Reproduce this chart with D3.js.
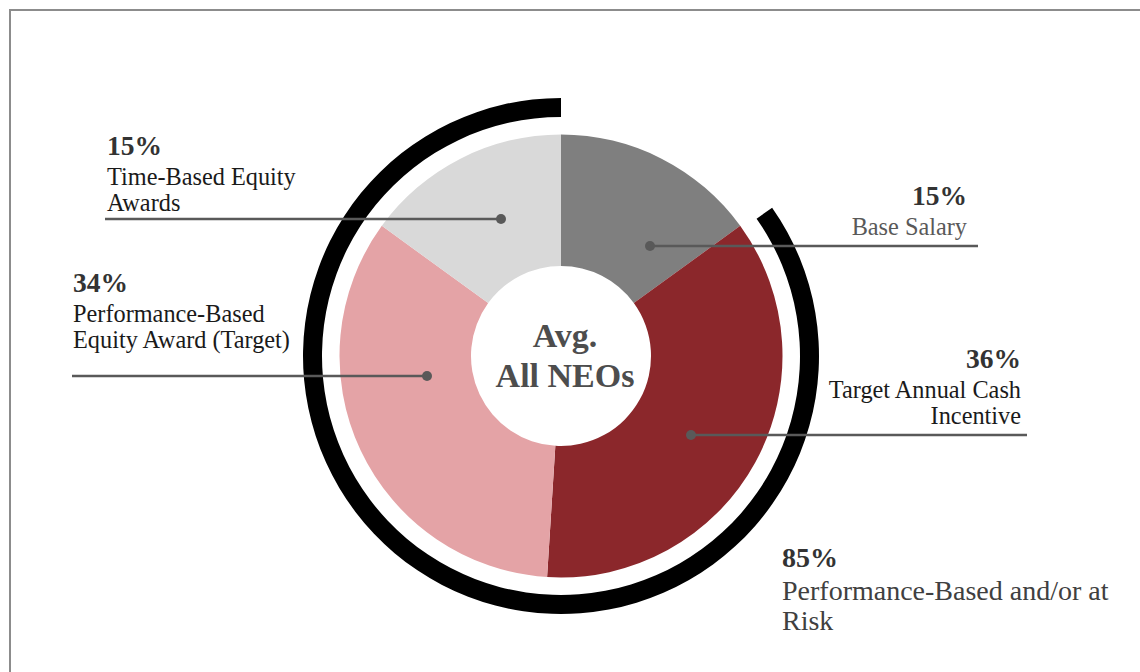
<!DOCTYPE html>
<html>
<head>
<meta charset="utf-8">
<script src="https://cdn.jsdelivr.net/npm/d3@7"></script>
<style>
  body { margin: 0; background: #fff; }
  svg { display: block; }
  text { font-family: "Liberation Serif", "Times New Roman", serif; }
</style>
</head>
<body>
<svg id="chart" width="1140" height="672"></svg>
<script>
// data
var categories = ["Base Salary", "Target Annual Cash Incentive", "Performance-Based Equity Award (Target)", "Time-Based Equity Awards"];
var values = [15, 36, 34, 15];
var sliceColors = ["#7f7f7f", "#8b272b", "#e4a3a6", "#d9d9d9"];
var labelLines = [["Base Salary"], ["Target Annual Cash", "Incentive"], ["Performance-Based", "Equity Award (Target)"], ["Time-Based Equity", "Awards"]];
var riskShare = 85;
var riskLines = ["Performance-Based and/or at", "Risk"];
var centerLines = ["Avg.", "All NEOs"];

// layout
var cx = 561, cy = 356;
var rIn = 90, rOut = 221.5;
var ringIn = 239, ringOut = 258;

// where each label sits (dot, line end, text column)
var labelLayout = [
  { dot: [650, 246], lineTo: 978, x: 967, anchor: "end", y: 205, color: "#595959" },
  { dot: [691, 435], lineTo: 1027, x: 1021, anchor: "end", y: 368, color: "#1a1a1a" },
  { dot: [427, 376], lineTo: 72, x: 73, anchor: "start", y: 292, color: "#1a1a1a" },
  { dot: [501, 219], lineTo: 105, x: 107, anchor: "start", y: 155, color: "#1a1a1a" }
];

var svg = d3.select("#chart");

// frame
svg.append("rect")
  .attr("x", 10).attr("y", 10)
  .attr("width", 1200).attr("height", 700)
  .style("fill", "none")
  .style("stroke", "#8c8c8c")
  .style("stroke-width", 2);

var g = svg.append("g").attr("transform", "translate(" + [cx, cy] + ")");

var pie = d3.pie().sort(null).value(d => d)(values);
var arc = d3.arc().innerRadius(rIn).outerRadius(rOut);

g.selectAll("path.slice")
  .data(pie)
  .enter()
  .append("path")
  .classed("slice", true)
  .attr("d", arc)
  .style("fill", (d, i) => sliceColors[i]);

// outer ring for the at-risk share
var total = d3.sum(values);
var ringArc = d3.arc()
  .innerRadius(ringIn)
  .outerRadius(ringOut)
  .startAngle(2 * Math.PI * (total - riskShare) / total + 0.016)
  .endAngle(2 * Math.PI);

g.append("path")
  .attr("d", ringArc())
  .style("fill", "#000");

// center text
g.selectAll("text.center")
  .data(centerLines)
  .enter()
  .append("text")
  .classed("center", true)
  .attr("x", 4)
  .attr("y", (d, i) => -9 + i * 40)
  .attr("text-anchor", "middle")
  .style("font-size", "34px")
  .style("font-weight", "bold")
  .style("fill", "#4d4d4d")
  .text(d => d);

// label leader lines + dots
var labels = svg.selectAll("g.label")
  .data(categories)
  .enter()
  .append("g")
  .classed("label", true);

labels.append("line")
  .attr("x1", (d, i) => labelLayout[i].dot[0])
  .attr("y1", (d, i) => labelLayout[i].dot[1])
  .attr("x2", (d, i) => labelLayout[i].lineTo)
  .attr("y2", (d, i) => labelLayout[i].dot[1])
  .style("stroke", "#595959")
  .style("stroke-width", 2.5);

labels.append("circle")
  .attr("cx", (d, i) => labelLayout[i].dot[0])
  .attr("cy", (d, i) => labelLayout[i].dot[1])
  .attr("r", 5)
  .style("fill", "#595959");

labels.append("text")
  .attr("x", (d, i) => labelLayout[i].x)
  .attr("y", (d, i) => labelLayout[i].y)
  .attr("text-anchor", (d, i) => labelLayout[i].anchor)
  .style("font-size", "27.5px")
  .style("font-weight", "bold")
  .style("fill", "#333")
  .text((d, i) => values[i] + "%");

labels.each(function(d, i) {
  var lay = labelLayout[i];
  d3.select(this).selectAll("text.desc")
    .data(labelLines[i])
    .enter()
    .append("text")
    .classed("desc", true)
    .attr("x", lay.x)
    .attr("y", (t, j) => lay.y + 30 + j * 26)
    .attr("text-anchor", lay.anchor)
    .style("font-size", "24.3px")
    .style("fill", lay.color)
    .text(t => t);
});

// at-risk label
svg.append("text")
  .attr("x", 782)
  .attr("y", 567)
  .style("font-size", "28px")
  .style("font-weight", "bold")
  .style("fill", "#333")
  .text(riskShare + "%");

svg.selectAll("text.risk")
  .data(riskLines)
  .enter()
  .append("text")
  .classed("risk", true)
  .attr("x", 782)
  .attr("y", (d, i) => 600 + i * 30)
  .style("font-size", "28px")
  .style("fill", "#404040")
  .text(d => d);
</script>
</body>
</html>
